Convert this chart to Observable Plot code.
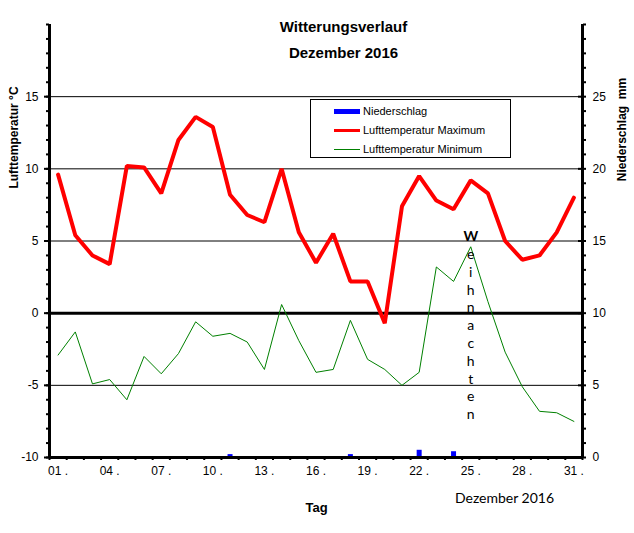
<!DOCTYPE html>
<html><head><meta charset="utf-8">
<script src="https://cdn.jsdelivr.net/npm/d3@7"></script>
<script src="https://cdn.jsdelivr.net/npm/@observablehq/plot@0.6"></script>
<style>
html,body{margin:0;padding:0;background:#fff;overflow:hidden}
#chart{position:relative;width:634px;height:533px;font-family:"Liberation Sans",Arial,sans-serif}
#chart svg{position:absolute;left:0;top:0}
#legend{position:absolute;left:310px;top:99px;width:199px;height:57px;border:1px solid #000;background:#fff;font-size:11px;color:#000}
#legend .row{position:absolute;left:0;height:14px;line-height:14px}
#legend .sw{position:absolute;left:23px;width:26px}
#legend .lb{position:absolute;left:52px;white-space:nowrap}
</style></head><body>
<div id="chart"></div>
<script>
// ---- data ----
const days = [1,2,3,4,5,6,7,8,9,10,11,12,13,14,15,16,17,18,19,20,21,22,23,24,25,26,27,28,29,30,31];
const tempMax = [9.6,5.4,4.0,3.4,10.2,10.1,8.3,12.0,13.6,12.9,8.2,6.8,6.3,10.0,5.6,3.5,5.5,2.2,2.2,-0.7,7.4,9.5,7.8,7.2,9.2,8.3,5.0,3.7,4.0,5.6,8.0];
const tempMin = [-2.9,-1.3,-4.9,-4.6,-6.0,-3.0,-4.2,-2.8,-0.6,-1.6,-1.4,-2.0,-3.9,0.6,-1.9,-4.1,-3.9,-0.5,-3.2,-3.9,-5.0,-4.1,3.2,2.2,4.6,0.8,-2.7,-5.1,-6.8,-6.9,-7.5];
const precipDays = [11,18,22,24];
const precipMM = [0.2,0.2,0.5,0.4];
const xTickDays = [1,4,7,10,13,16,19,22,25,28,31];
const xTickLabels = ["01 .","04 .","07 .","10 .","13 .","16 .","19 .","22 .","25 .","28 .","31 ."];
const leftTicks = [-10,-5,0,5,10,15];
const rightTicks = [0,5,10,15,20,25];
const gridTemps = [-5,5,10,15];
const xmas = [{day:25, y:5.85}];
const xmasFirst = "W";
const xmasRest = "\ne\ni\nh\nn\na\nc\nh\nt\ne\nn";
const titles = ["Witterungsverlauf","Dezember 2016"];

const precip = precipDays.map((d,i)=>({day:d, mm:precipMM[i]}));
const frame = {width:634, height:533, marginLeft:49, marginRight:52, marginTop:24, marginBottom:76};
const style = {background:"transparent", fontFamily:"'Liberation Sans', Arial, sans-serif", fontSize:"12px", color:"#000", overflow:"visible"};

// precipitation layer (right axis)
const plotB = Plot.plot({
  ...frame, style,
  x:{domain:[0.5,31.5], axis:null},
  y:{domain:[0,30], axis:null},
  marks:[
    Plot.ruleX(precip, {x:"day", y1:0, y2:"mm", stroke:"#0000ff", strokeWidth:5}),
    Plot.axisY({anchor:"right", ticks:d3.range(0,31), tickSize:3, strokeWidth:2, tickFormat:()=>"", label:null}),
    Plot.axisY({anchor:"right", ticks:rightTicks, tickSize:-5, strokeWidth:2, tickFormat:()=>"", label:null}),
    Plot.axisY({anchor:"right", ticks:rightTicks, tickSize:0, tickPadding:10, tickFormat:d=>String(d), fontSize:12, label:null})
  ]
});

// temperature layer
const plotA = Plot.plot({
  ...frame, style,
  x:{domain:[0.5,31.5], axis:null},
  y:{domain:[-10,20], axis:null},
  marks:[
    Plot.ruleY(gridTemps, {stroke:"#000", strokeWidth:1}),
    Plot.ruleY([0], {stroke:"#000", strokeWidth:3}),
    Plot.lineY(tempMin, {x:days, stroke:"#008000", strokeWidth:1}),
    Plot.lineY(tempMax, {x:days, stroke:"#ff0000", strokeWidth:4, strokeLinejoin:"miter"}),
    Plot.ruleX([0.5], {y1:-10, y2:20, stroke:"#000", strokeWidth:3}),
    Plot.ruleX([31.5], {y1:-10, y2:20, stroke:"#000", strokeWidth:3}),
    Plot.ruleY([-10], {stroke:"#000", strokeWidth:3}),
    Plot.axisY({anchor:"left", ticks:d3.range(-10,21), tickSize:3, strokeWidth:2, tickFormat:()=>"", label:null}),
    Plot.axisY({anchor:"left", ticks:leftTicks, tickSize:5, strokeWidth:2, tickPadding:6, tickFormat:d=>String(d), fontSize:12, label:null}),
    Plot.axisX({anchor:"bottom", ticks:d3.range(0.5,32,1), tickSize:3, strokeWidth:2, tickFormat:()=>"", label:null}),
    Plot.axisX({anchor:"bottom", ticks:xTickDays, tickSize:0, tickPadding:9, tickFormat:d=>xTickLabels[xTickDays.indexOf(d)], fontSize:12, label:null}),
    Plot.text(xmas, {x:"day", y:"y", text:()=>xmasFirst, lineAnchor:"top", fontWeight:"bold", fontSize:14, fontFamily:"Lato", lineHeight:1.27}),
    Plot.text(xmas, {x:"day", y:"y", text:()=>xmasRest, lineAnchor:"top", fontSize:14, fontFamily:"Lato", lineHeight:1.27}),
    Plot.text([titles[0]], {text:d=>d, frameAnchor:"top", lineAnchor:"middle", dx:27.5, dy:3, fontSize:15, fontWeight:"bold"}),
    Plot.text([titles[1]], {text:d=>d, frameAnchor:"top", lineAnchor:"middle", dx:27.5, dy:29, fontSize:15, fontWeight:"bold"}),
    Plot.text(["Tag"], {text:d=>d, frameAnchor:"bottom", lineAnchor:"middle", dx:0.5, dy:50, fontSize:13, fontWeight:"bold"}),
    Plot.text(["Dezember 2016"], {text:d=>d, frameAnchor:"bottom", lineAnchor:"middle", dx:188.5, dy:41, fontSize:14, fontFamily:"Lato"}),
    Plot.text(["Lufttemperatur °C"], {text:d=>d, frameAnchor:"left", textAnchor:"middle", dx:-35, dy:-103.5, rotate:-90, fontSize:12, fontWeight:"bold"}),
    Plot.text(["Niederschlag  mm"], {text:d=>d, frameAnchor:"right", textAnchor:"middle", dx:40, dy:-111.5, rotate:-90, fontSize:12, fontWeight:"bold"})
  ]
});

const chart = document.getElementById("chart");
chart.appendChild(plotB);
chart.appendChild(plotA);

// legend
const legendItems = [
  {label:"Niederschlag", color:"#0000ff", h:5},
  {label:"Lufttemperatur Maximum", color:"#ff0000", h:3},
  {label:"Lufttemperatur Minimum", color:"#008000", h:1}
];
const legend = document.createElement("div");
legend.id = "legend";
const rowCenters = [11, 30, 49];
legendItems.forEach((it,i)=>{
  const row = document.createElement("div");
  row.className = "row";
  row.style.top = (rowCenters[i]-7)+"px";
  row.style.width = "199px";
  const sw = document.createElement("div");
  sw.className = "sw";
  sw.style.background = it.color;
  sw.style.height = it.h+"px";
  sw.style.top = (7 - it.h/2)+"px";
  const lb = document.createElement("span");
  lb.className = "lb";
  lb.textContent = it.label;
  row.appendChild(sw); row.appendChild(lb);
  legend.appendChild(row);
});
chart.appendChild(legend);
</script>
</body></html>
